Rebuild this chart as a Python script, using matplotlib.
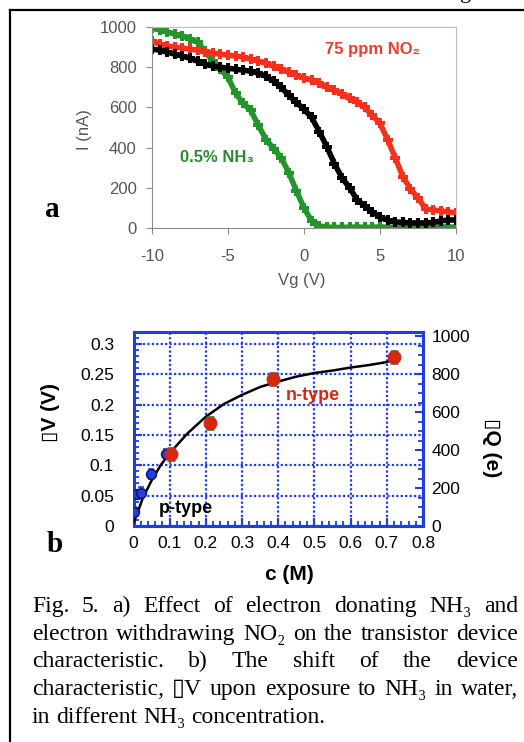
import matplotlib
matplotlib.use("Agg")
import matplotlib.pyplot as plt
from matplotlib.lines import Line2D
from matplotlib.ticker import MultipleLocator
import numpy as np

plt.rcParams['axes.unicode_minus'] = False

# ---- panel a : transfer curves ----
vg = np.arange(-10, 10.01, 0.5)
i_pristine = [890, 885, 875, 865, 855, 845, 830, 815, 805, 800, 795, 790, 785, 780, 770,
              755, 730, 700, 660, 625, 590, 550, 480, 405, 320, 250, 200, 140, 110, 80,
              55, 38, 30, 28, 25, 25, 25, 28, 35, 40, 40]
i_no2 = [930, 915, 905, 900, 895, 890, 885, 875, 870, 865, 860, 855, 850, 840, 830,
         820, 805, 790, 775, 760, 745, 735, 720, 700, 685, 665, 645, 625, 600, 560,
         520, 440, 350, 255, 195, 150, 95, 90, 85, 80, 75]
i_nh3 = [995, 985, 975, 965, 955, 940, 925, 880, 830, 790, 750, 670, 620, 585, 510,
         440, 395, 350, 275, 185, 100, 35, 10, 5, 3, 3, 4, 5, 3, 4,
         5, 4, 3, 5, 4, 3, 5, 4, 6, 5, 4]

# ---- panel b : threshold shift vs concentration ----
c_p = [0.0, 0.009, 0.022, 0.048, 0.09]
dv_p = [0.023, 0.052, 0.055, 0.086, 0.118]
err_p = [0.008, 0.008, 0.009, 0.008, 0.008]
c_n = [0.105, 0.212, 0.386, 0.719]
dv_n = [0.119, 0.170, 0.242, 0.278]
err_n = [0.010, 0.010, 0.010, 0.010]
c_fit = [0.0, 0.01, 0.025, 0.05, 0.075, 0.1, 0.15, 0.2, 0.25, 0.3, 0.35, 0.4, 0.45,
         0.5, 0.55, 0.6, 0.65, 0.7, 0.72]
dv_fit = [0.005, 0.02, 0.045, 0.075, 0.1, 0.12, 0.153, 0.18, 0.201, 0.216, 0.229, 0.238,
          0.246, 0.252, 0.256, 0.261, 0.265, 0.27, 0.274]

caption = ["Fig. 5. a) Effect of electron donating NH\u2083 and",
           "electron withdrawing NO\u2082 on the transistor device",
           "characteristic. b) The shift of the device",
           "characteristic, \u25afV upon exposure to NH\u2083 in water,",
           "in different NH\u2083 concentration."]

W, H = 524, 742
sans = ['Liberation Sans', 'DejaVu Sans']
serif = ['Liberation Serif', 'DejaVu Serif']

fig = plt.figure(figsize=(W / 100, H / 100), dpi=100)

def fx(px):
    return px / W

def fy(py):
    return 1 - py / H

# frame lines of the page
fig.add_artist(Line2D([fx(10), fx(10)], [fy(10), 0], color='black', lw=1.6))
fig.add_artist(Line2D([fx(10), 1], [fy(10), fy(10)], color='black', lw=1.6))
fig.text(fx(460), fy(-2), 'g', family=serif, fontsize=16, va='baseline')

# ---------------- panel a ----------------
axa = fig.add_axes([fx(152), fy(228), fx(456) - fx(152), fy(27) - fy(228)])
axa.plot(vg, i_nh3, color='#22962a', lw=4.0, marker='P', ms=7, mew=0)
axa.plot(vg, i_no2, color='#f5301c', lw=4.0, marker='P', ms=7, mew=0)
axa.plot(vg, i_pristine, color='black', lw=4.0, marker='P', ms=7, mew=0)
axa.set_xlim(-10, 10)
axa.set_ylim(0, 1000)
axa.set_xticks([-10, -5, 0, 5, 10])
axa.set_yticks([0, 200, 400, 600, 800, 1000])
for s in ['left', 'bottom']:
    axa.spines[s].set_color('#8a8a8a')
for s in ['top', 'right']:
    axa.spines[s].set_color('#bdbdbd')
axa.tick_params(axis='x', direction='out', length=4, color='#8a8a8a', pad=11,
                labelsize=12, labelcolor='#555555')
axa.tick_params(axis='y', direction='out', length=4, color='#8a8a8a', pad=7,
                labelsize=12, labelcolor='#555555')
for lab in axa.get_xticklabels() + axa.get_yticklabels():
    lab.set_family(sans)
axa.text(1.38, 866, '75 ppm NO\u2082', color='#e8402a', fontsize=12, weight='bold',
         family=sans, va='baseline')
axa.text(-8.16, 328, '0.5% NH\u2083', color='#2a8a30', fontsize=12, weight='bold',
         family=sans, va='baseline')
fig.text(fx(85), fy(130), 'I (nA)', rotation=90, ha='center', va='center',
         color='#555555', fontsize=12, family=sans)
fig.text(fx(302), fy(280), 'Vg (V)', ha='center', va='center',
         color='#555555', fontsize=12, family=sans)
fig.text(fx(45), fy(216.7), 'a', family=serif, weight='bold', fontsize=21, va='baseline')

# ---------------- panel b ----------------
blue = '#1e3ee0'
axb = fig.add_axes([fx(133.5), fy(526), fx(423) - fx(133.5), fy(331.7) - fy(526)])
axb.plot(c_fit, dv_fit, color='black', lw=1.8, zorder=3)
axb.errorbar(c_p, dv_p, yerr=err_p, fmt='o', color='#2440d8', mec='#0d1a70', mew=1.2,
             ms=7, ecolor=blue, elinewidth=1.5, capsize=2.5, capthick=1.5, zorder=4)
axb.errorbar(c_n, dv_n, yerr=err_n, fmt='o', color='#d42810', mec='#d42810', ms=9,
             ecolor='#1f8040', elinewidth=1.8, capsize=3, capthick=1.8, zorder=5)
axb.set_xlim(0, 0.8)
axb.set_ylim(0, 0.32)
axb.set_xticks(np.arange(0, 0.81, 0.1))
axb.set_xticklabels(['0', '0.1', '0.2', '0.3', '0.4', '0.5', '0.6', '0.7', '0.8'])
axb.set_yticks([0, 0.05, 0.1, 0.15, 0.2, 0.25, 0.3])
axb.set_yticklabels(['0', '0.05', '0.1', '0.15', '0.2', '0.25', '0.3'])
axb.yaxis.set_minor_locator(MultipleLocator(0.01))
axb.xaxis.set_minor_locator(MultipleLocator(0.02))
axb.grid(True, which='major', color=blue, ls=(0, (1, 1)), lw=1.6)
axb.set_axisbelow(True)
for s in axb.spines.values():
    s.set_color(blue)
    s.set_linewidth(2.2)
axb.tick_params(axis='x', which='major', direction='in', length=6, width=1.5, color=blue,
                pad=7, labelsize=12.5)
axb.tick_params(axis='y', which='major', direction='in', length=6, width=1.5, color=blue,
                pad=14, labelsize=12.5)
axb.tick_params(which='minor', direction='in', length=3.5, width=1.3, color=blue)
for lab in axb.get_xticklabels() + axb.get_yticklabels():
    lab.set_family(sans)

axq = axb.twinx()
axq.set_ylim(0, 1025)
axq.set_yticks([0, 200, 400, 600, 800, 1000])
axq.yaxis.set_minor_locator(MultipleLocator(50))
for s in axq.spines.values():
    s.set_visible(False)
axq.tick_params(axis='y', which='major', direction='in', length=6, width=1.5, color=blue,
                pad=6, labelsize=12.5)
axq.tick_params(axis='y', which='minor', direction='in', length=3.5, width=1.3, color=blue)
for lab in axq.get_yticklabels():
    lab.set_family(sans)

axb.text(0.071, 0.021, 'p-type', fontsize=13, weight='bold', family=sans,
         va='baseline', zorder=6)
axb.text(0.422, 0.208, 'n-type', fontsize=13, weight='bold', family=sans,
         color='#d42810', va='baseline', zorder=6)
fig.text(fx(50), fy(413), '\u25afV (V)', rotation=90, ha='center', va='center',
         fontsize=15, weight='bold', family=sans)
fig.text(fx(492), fy(448), '\u25afQ (e)', rotation=-90, ha='center', va='center',
         fontsize=15, weight='bold', family=sans)
fig.text(fx(289), fy(575), 'c (M)', ha='center', va='center',
         fontsize=15, weight='bold', family=sans)
fig.text(fx(46.7), fy(551.7), 'b', family=serif, weight='bold', fontsize=21, va='baseline')

# ---------------- caption (justified) ----------------
renderer = fig.canvas.get_renderer()
left, right = 32, 518
base = 612
cap_size = 17
for k, line in enumerate(caption):
    words = line.split(' ')
    y = fy(base + k * 27.7)
    texts = [fig.text(0, y, w, family=serif, fontsize=cap_size, va='baseline') for w in words]
    widths = [t.get_window_extent(renderer).width for t in texts]
    if k < len(caption) - 1:
        gap = (right - left - sum(widths)) / (len(words) - 1)
    else:
        gap = cap_size * 100 / 72 * 0.25
    x = left
    for t, w in zip(texts, widths):
        t.set_x(fx(x))
        x += w + gap

fig.savefig('out.png', dpi=100)
